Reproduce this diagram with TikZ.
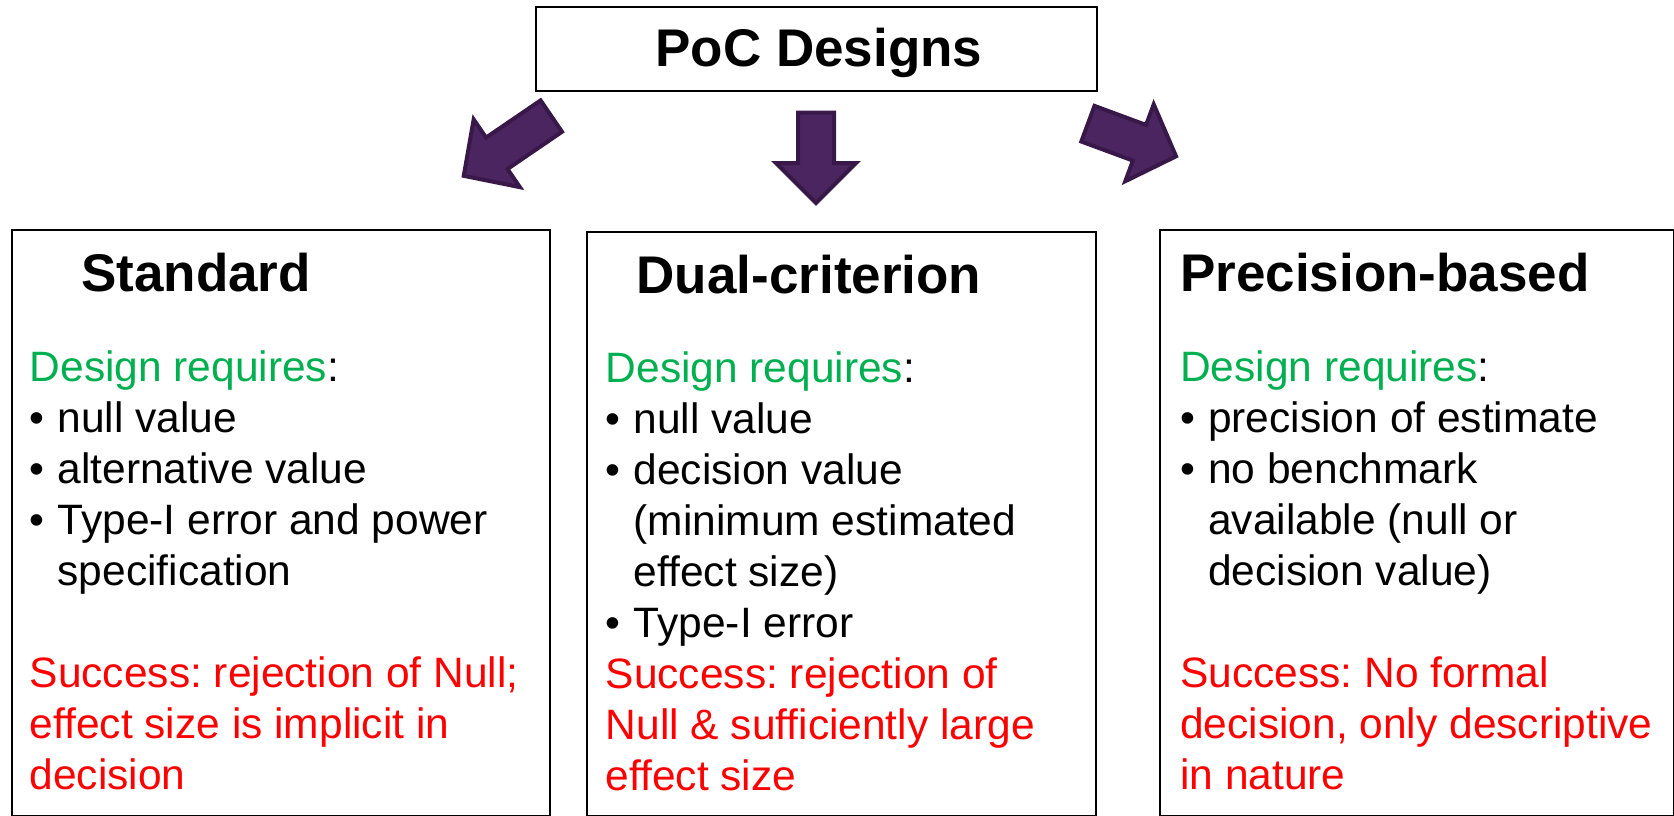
\documentclass[tikz,border=0pt]{standalone}
\usepackage{fontspec}
\setmainfont{Liberation Sans}
\frenchspacing
\definecolor{reqgreen}{RGB}{0,176,80}
\definecolor{succred}{RGB}{255,0,0}
\definecolor{arrowfill}{RGB}{75,37,96}
\definecolor{arrowline}{RGB}{56,24,72}

% fonts
\newcommand{\headfont}{\fontsize{53}{63}\selectfont\bfseries}
\newcommand{\bodyfont}{\fontsize{42.5}{51.1}\selectfont}
% bullet item and its continuation line
\newcommand{\bitem}[1]{\makebox[28pt][l]{\textbullet}#1}
\newcommand{\bcont}[1]{\hspace*{28pt}#1}
\newcommand{\req}{\textcolor{reqgreen}{Design requires}:}

\tikzset{
  panel/.style={draw=black, line width=2pt, inner sep=0pt, anchor=north west},
  heading/.style={anchor=base west, inner sep=0pt, font=\headfont},
  bodytext/.style={anchor=base west, inner sep=0pt},
  blockarrow/.style={fill=arrowfill, draw=arrowline, line width=4pt, line join=miter},
}
% block arrow pointing along +x: #1 length, #2 head length, #3 half shaft, #4 half head
\newcommand{\blockarrowpath}[4]{%
  (0,-#3) -- (#1-#2,-#3) -- (#1-#2,-#4) -- (#1,0) -- (#1-#2,#4) -- (#1-#2,#3) -- (0,#3) -- cycle}

\begin{document}
\begin{tikzpicture}[x=1pt,y=-1pt]
\useasboundingbox (0,0) rectangle (1674,816);

% top box
\node[panel, minimum width=561pt, minimum height=84pt] (top) at (535,6) {};
\node[anchor=base, inner sep=0pt, font=\headfont] (toptext) at (819,66.5) {PoC Designs};

% three panels
\node[panel, minimum width=538.5pt, minimum height=586pt] (std) at (10.5,229) {};
\node[panel, minimum width=509pt, minimum height=584pt] (dual) at (586,231) {};
\node[panel, minimum width=513.5pt, minimum height=586pt] (prec) at (1159,229) {};

% block arrows
\begin{scope}[shift={(551.3,116.1)}, rotate=214.3]
  \filldraw[blockarrow] \blockarrowpath{106}{40}{19}{41};
\end{scope}
\begin{scope}[shift={(816,112.5)}, rotate=270]
  \filldraw[blockarrow] \blockarrowpath{90.5}{40}{18}{40};
\end{scope}
\begin{scope}[shift={(1087.9,123.7)}, rotate=-20.3]
  \filldraw[blockarrow] \blockarrowpath{94}{39}{19}{41};
\end{scope}

% panel headings
\node[heading] (stdhead) at (81,291) {Standard};
\node[heading] (dualhead) at (636.5,293) {Dual-criterion};
\node[heading] (prechead) at (1180,291) {Precision-based};

% panel bodies
\node[bodytext] (stdbody) at (29.5,381) {\parbox[t]{505pt}{\bodyfont\raggedright
\req\\
\bitem{null value}\\
\bitem{alternative value}\\
\bitem{Type-I error and power}\\
\bcont{specification}\\
\mbox{}\\
\textcolor{succred}{Success: rejection of Null;}\\
\textcolor{succred}{effect size is implicit in}\\
\textcolor{succred}{decision}}};

\node[bodytext] (dualbody) at (605.5,382) {\parbox[t]{480pt}{\bodyfont\raggedright
\req\\
\bitem{null value}\\
\bitem{decision value}\\
\bcont{(minimum estimated}\\
\bcont{effect size)}\\
\bitem{Type-I error}\\
\textcolor{succred}{Success: rejection of}\\
\textcolor{succred}{Null \& sufficiently large}\\
\textcolor{succred}{effect size}}};

\node[bodytext] (precbody) at (1180,381) {\parbox[t]{485pt}{\bodyfont\raggedright
\req\\
\bitem{precision of estimate}\\
\bitem{no benchmark}\\
\bcont{available (null or}\\
\bcont{decision value)}\\
\mbox{}\\
\textcolor{succred}{Success: No formal}\\
\textcolor{succred}{decision, only descriptive}\\
\textcolor{succred}{in nature}}};
\end{tikzpicture}
\end{document}
